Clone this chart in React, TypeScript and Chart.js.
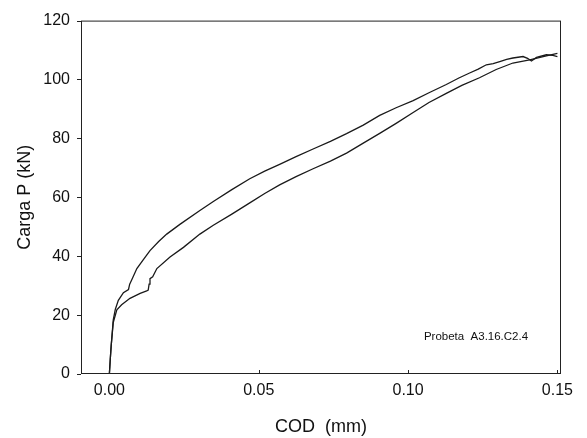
import React, { useEffect, useRef } from "react";
import { Chart, registerables } from "chart.js";

Chart.register(...registerables);

const curveAX = [0, 0.0003, 0.0006, 0.0013, 0.002, 0.003, 0.0047, 0.0064, 0.0068, 0.0075, 0.0092, 0.0115, 0.0136, 0.0165, 0.0192, 0.0236, 0.0303, 0.0348, 0.041, 0.047, 0.052, 0.057, 0.0625, 0.0682, 0.074, 0.0794, 0.085, 0.0905, 0.096, 0.1017, 0.107, 0.1128, 0.117, 0.1206, 0.1235, 0.1262, 0.1285, 0.1307, 0.133, 0.1351, 0.1385, 0.14, 0.1413, 0.143, 0.1463, 0.1485, 0.15];
const curveAY = [0, 5, 9.5, 18.4, 22, 25, 27.6, 28.7, 30.5, 32, 35.8, 39, 41.9, 45, 47.5, 50.8, 55.5, 58.6, 62.6, 66.3, 68.9, 71.2, 73.8, 76.4, 79, 81.6, 84.5, 87.8, 90.4, 92.8, 95.5, 98.3, 100.5, 102.2, 103.5, 105, 105.4, 106.1, 106.8, 107.3, 107.8, 107.2, 106.3, 107.5, 108.4, 108.2, 107.8];

const curveBX = [0, 0.0003, 0.0006, 0.0013, 0.0025, 0.0041, 0.0069, 0.0103, 0.0125, 0.013, 0.0133, 0.0136, 0.0145, 0.0159, 0.0203, 0.0248, 0.0303, 0.0348, 0.041, 0.047, 0.052, 0.057, 0.0625, 0.0682, 0.074, 0.0794, 0.085, 0.0905, 0.096, 0.1017, 0.107, 0.1128, 0.118, 0.1239, 0.1295, 0.1351, 0.1407, 0.1463, 0.15];
const curveBY = [0, 5, 9.5, 17.5, 21.8, 23.5, 25.7, 27.4, 28.2, 28.5, 30.5, 32.4, 33, 35.8, 39.7, 43, 47.5, 50.5, 54.3, 58.1, 61.3, 64.2, 67, 69.7, 72.3, 75, 78.4, 81.7, 85.1, 88.8, 92.2, 95.3, 98, 100.6, 103.4, 105.6, 106.7, 108, 108.9];

const xTicks = [0, 0.05, 0.1, 0.15];
const yTicks = [0, 20, 40, 60, 80, 100, 120];
const xTitle = "COD  (mm)";
const yTitle = "Carga P (kN)";
const annotationText = "Probeta  A3.16.C2.4";
const annotationPos = { x: 0.1053, y: 12.6 };

const FONT = "'Liberation Sans', Arial, Helvetica, sans-serif";

const framePlugin = {
  id: "frame",
  afterDraw(chart: any) {
    const { ctx, chartArea } = chart;
    const { left, right, top, bottom } = chartArea;
    ctx.save();
    ctx.strokeStyle = "#222";
    ctx.lineWidth = 1;
    ctx.strokeRect(left + 0.5, top + 0.5, right - left - 1, bottom - top - 1);
    const xs = chart.scales.x;
    const ys = chart.scales.y;
    ctx.beginPath();
    for (const v of yTicks) {
      const py = Math.round(ys.getPixelForValue(v)) + 0.5;
      ctx.moveTo(left - 4, py);
      ctx.lineTo(left, py);
    }
    for (const v of xTicks) {
      const px = Math.round(xs.getPixelForValue(v)) + 0.5;
      ctx.moveTo(px, bottom);
      ctx.lineTo(px, bottom - 4);
    }
    ctx.stroke();
    ctx.fillStyle = "#111";
    ctx.font = `11.5px ${FONT}`;
    ctx.textAlign = "left";
    ctx.textBaseline = "middle";
    ctx.fillText(annotationText, xs.getPixelForValue(annotationPos.x), ys.getPixelForValue(annotationPos.y));
    ctx.restore();
  },
};

export default function App() {
  const ref = useRef<HTMLCanvasElement | null>(null);
  useEffect(() => {
    document.body.style.margin = "0";
    const canvas = ref.current;
    if (!canvas) return;
    const toPts = (xs: number[], ys: number[]) => xs.map((x, i) => ({ x, y: ys[i] }));
    const chart = new Chart(canvas, {
      type: "scatter",
      data: {
        datasets: [
          {
            data: toPts(curveAX, curveAY),
            showLine: true,
            borderColor: "#1a1a1a",
            borderWidth: 1.3,
            pointRadius: 0,
            tension: 0,
          },
          {
            data: toPts(curveBX, curveBY),
            showLine: true,
            borderColor: "#1a1a1a",
            borderWidth: 1.3,
            pointRadius: 0,
            tension: 0,
          },
        ],
      },
      options: {
        animation: false,
        responsive: false,
        maintainAspectRatio: false,
        devicePixelRatio: 1,
        layout: { padding: { left: 0, top: 17, right: 26, bottom: 0 } },
        plugins: { legend: { display: false }, tooltip: { enabled: false } },
        scales: {
          x: {
            type: "linear",
            min: -0.0095,
            max: 0.1512,
            grid: { display: false, drawTicks: false, tickLength: 0 },
            border: { display: false },
            afterBuildTicks: (s: any) => {
              s.ticks = xTicks.map((v) => ({ value: v }));
            },
            afterFit: (s: any) => {
              s.height = 64;
            },
            ticks: {
              padding: 7,
              color: "#111",
              font: { family: FONT, size: 16 },
              maxRotation: 0,
              callback: (v: any) => Number(v).toFixed(2),
            },
            title: {
              display: true,
              text: xTitle,
              color: "#111",
              font: { family: FONT, size: 18 },
              padding: { top: 0, bottom: 0 },
            },
          },
          y: {
            type: "linear",
            min: 0,
            max: 120,
            grid: { display: false, drawTicks: false, tickLength: 0 },
            border: { display: false },
            afterBuildTicks: (s: any) => {
              s.ticks = yTicks.map((v) => ({ value: v }));
            },
            afterFit: (s: any) => {
              s.width = 81;
            },
            ticks: {
              padding: 11,
              color: "#111",
              font: { family: FONT, size: 16 },
              callback: (v: any) => String(v),
            },
            title: {
              display: true,
              text: yTitle,
              color: "#111",
              font: { family: FONT, size: 18 },
              padding: { top: 14, bottom: 0 },
            },
          },
        },
      },
      plugins: [framePlugin],
    });
    return () => chart.destroy();
  }, []);
  return (
    <div style={{ width: 587, height: 438, background: "#fff" }}>
      <canvas ref={ref} width={587} height={438} style={{ display: "block" }} />
    </div>
  );
}
